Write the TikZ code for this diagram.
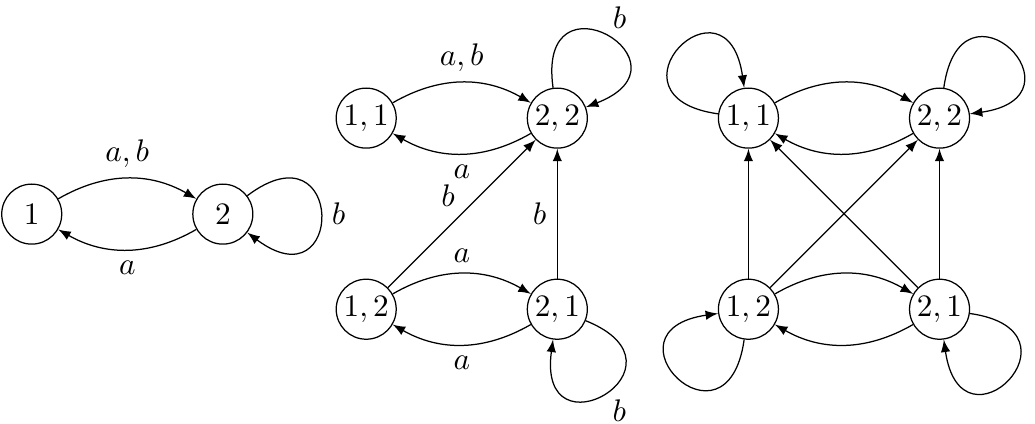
\documentclass[tikz,border=0pt]{standalone}
\usepackage{amsmath}
\usetikzlibrary{arrows}

\tikzset{
  state/.style={draw, circle, minimum size=0.675cm, inner sep=0pt},
  trans/.style={->, >=latex, thin},
  selfloop/.style={trans, distance=1.38cm},
  tight/.style={inner sep=2pt}
}

\begin{document}
\begin{tikzpicture}
\useasboundingbox (0,0) rectangle (11.644,4.759);

% ---- Left automaton ----
\node[state] (p1) at (0.357,2.35) {$1$};
\node[state] (p2) at (2.507,2.35) {$2$};

\draw[trans] (p1) to[bend left=30] node[above] {$a,b$} (p2);
\draw[trans] (p2) to[bend left=30] node[below] {$a$} (p1);
\draw[selfloop] (p2) to[out=37,in=-37] node[right] {$b$} (p2);

% ---- Product automaton (labelled) ----
\foreach \nm/\x/\y/\lab in {m11/4.12/3.43/{1,1}, m22/6.27/3.43/{2,2},
                            m12/4.12/1.28/{1,2}, m21/6.27/1.28/{2,1}} {
  \node[state] (\nm) at (\x,\y) {$\lab$};
}

\draw[trans] (m11) to[bend left=30] node[above] {$a,b$} (m22);
\draw[trans] (m22) to[bend left=30] node[below] {$a$} (m11);
\draw[trans] (m12) to[bend left=30] node[above] {$a$} (m21);
\draw[trans] (m21) to[bend left=30] node[below] {$a$} (m12);
\draw[trans] (m12) -- node[above left, tight] {$b$} (m22);
\draw[trans] (m21) -- node[left] {$b$} (m22);
\draw[selfloop] (m22) to[out=98,in=21] node[above right, tight] {$b$} (m22);
\draw[selfloop] (m21) to[out=-22,in=-98] node[below right, tight] {$b$} (m21);

% ---- Product automaton (unlabelled) ----
\foreach \nm/\x/\y/\lab in {r11/8.42/3.43/{1,1}, r22/10.57/3.43/{2,2},
                            r12/8.42/1.28/{1,2}, r21/10.57/1.28/{2,1}} {
  \node[state] (\nm) at (\x,\y) {$\lab$};
}

\draw[trans] (r11) to[bend left=30] (r22);
\draw[trans] (r22) to[bend left=30] (r11);
\draw[trans] (r12) to[bend left=30] (r21);
\draw[trans] (r21) to[bend left=30] (r12);
\draw[trans] (r12) -- (r11);
\draw[trans] (r21) -- (r22);
\draw[trans] (r12) -- (r22);
\draw[trans] (r21) -- (r11);
\draw[selfloop] (r11) to[out=172,in=98] (r11);
\draw[selfloop] (r22) to[out=82,in=8] (r22);
\draw[selfloop] (r12) to[out=-98,in=-172] (r12);
\draw[selfloop] (r21) to[out=-8,in=-82] (r21);

\end{tikzpicture}
\end{document}
